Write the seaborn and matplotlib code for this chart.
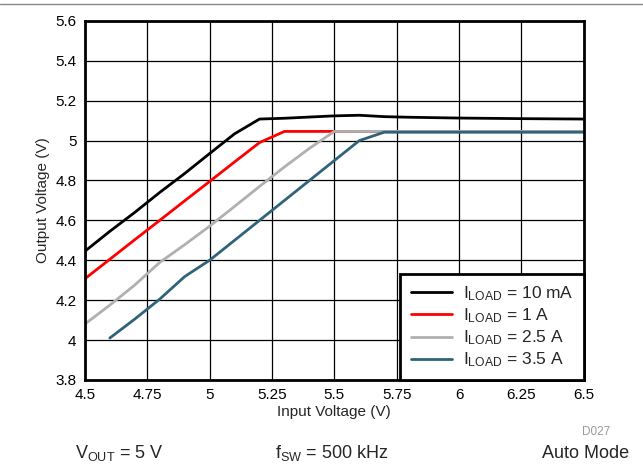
import pandas as pd
import matplotlib
matplotlib.use('Agg')

import matplotlib.pyplot as plt
import seaborn as sns
from matplotlib.lines import Line2D
from matplotlib.ticker import FormatStrFormatter

# Data
vin_10ma = [4.5, 4.6, 4.7, 4.8, 4.9, 5.0, 5.1, 5.2, 5.3, 5.4, 5.5, 5.6, 5.7, 5.8, 6.0, 6.25, 6.5]
vout_10ma = [4.445, 4.545, 4.64, 4.74, 4.835, 4.935, 5.034, 5.108, 5.112, 5.118, 5.124, 5.127, 5.12, 5.117, 5.113, 5.11, 5.108]

vin_1a = [4.5, 4.6, 4.7, 4.8, 4.9, 5.0, 5.1, 5.2, 5.3, 5.5, 5.75, 6.0, 6.25, 6.5]
vout_1a = [4.307, 4.405, 4.503, 4.60, 4.698, 4.795, 4.893, 4.99, 5.046, 5.046, 5.046, 5.046, 5.046, 5.046]

vin_2a5 = [4.5, 4.6, 4.7, 4.8, 4.9, 5.0, 5.1, 5.2, 5.3, 5.4, 5.5, 5.75, 6.0, 6.25, 6.5]
vout_2a5 = [4.08, 4.175, 4.276, 4.389, 4.478, 4.571, 4.67, 4.77, 4.868, 4.961, 5.046, 5.046, 5.046, 5.046, 5.046]

vin_3a5 = [4.6, 4.7, 4.8, 4.9, 5.0, 5.1, 5.2, 5.3, 5.4, 5.5, 5.6, 5.7, 5.75, 6.0, 6.25, 6.5]
vout_3a5 = [4.01, 4.105, 4.205, 4.318, 4.40, 4.50, 4.60, 4.70, 4.80, 4.90, 5.0, 5.042, 5.042, 5.042, 5.042, 5.042]

labels = [r'$\mathregular{I_{LOAD}}$ = 10 mA', r'$\mathregular{I_{LOAD}}$ = 1 A',
          r'$\mathregular{I_{LOAD}}$ = 2.5 A', r'$\mathregular{I_{LOAD}}$ = 3.5 A']
colors = ['#000000', '#FF0000', '#B0B0B0', '#2E6378']

xticks = [4.5, 4.75, 5.0, 5.25, 5.5, 5.75, 6.0, 6.25, 6.5]
yticks = [3.8, 4.0, 4.2, 4.4, 4.6, 4.8, 5.0, 5.2, 5.4, 5.6]

frames = []
for vin, vout, lab in zip([vin_10ma, vin_1a, vin_2a5, vin_3a5],
                          [vout_10ma, vout_1a, vout_2a5, vout_3a5], labels):
    frames.append(pd.DataFrame({'vin': vin, 'vout': vout, 'load': lab}))
df = pd.concat(frames, ignore_index=True)

sns.set_style('white')
plt.rcParams['font.family'] = ['Liberation Sans', 'DejaVu Sans']
plt.rcParams['mathtext.default'] = 'regular'

fig = plt.figure(figsize=(6.43, 4.65), dpi=100)
ax = fig.add_axes([0.132, 0.183, 0.776, 0.772])

sns.lineplot(data=df, x='vin', y='vout', hue='load', hue_order=labels,
             palette=colors, linewidth=2, ax=ax, sort=False)

ax.set_xlim(4.5, 6.5)
ax.set_ylim(3.8, 5.6)
ax.set_xticks(xticks)
ax.set_yticks(yticks)
ax.xaxis.set_major_formatter(FormatStrFormatter('%g'))
ax.yaxis.set_major_formatter(FormatStrFormatter('%g'))
ax.grid(True, color='black', linewidth=0.9)
ax.tick_params(length=0, labelsize=11, colors='black', pad=6)
for s in ax.spines.values():
    s.set_color('black')
    s.set_linewidth(2)
ax.set_xlabel('Input Voltage (V)', fontsize=11, labelpad=2)
ax.set_ylabel('Output Voltage (V)', fontsize=11, labelpad=4)

leg = ax.legend(loc='lower right', borderaxespad=0, fontsize=12.5,
                fancybox=False, framealpha=1, handlelength=2.4,
                labelspacing=0.2, borderpad=0.6, handletextpad=0.6)
leg.get_frame().set_edgecolor('black')
leg.get_frame().set_linewidth(2)

# thin rule along the top of the figure
fig.add_artist(Line2D([0, 1], [0.991, 0.991], color='#888888', linewidth=1))

fig.text(0.905, 0.072, 'D027', fontsize=8.5, color='#999999', ha='left', va='center')
fig.text(0.117, 0.025, r'$\mathregular{V_{OUT}}$ = 5 V', fontsize=13, ha='left', va='center')
fig.text(0.428, 0.025, r'$\mathregular{f_{SW}}$ = 500 kHz', fontsize=13, ha='left', va='center')
fig.text(0.978, 0.025, 'Auto Mode', fontsize=13, ha='right', va='center')

plt.savefig('out.png', dpi=100)
plt.close()
